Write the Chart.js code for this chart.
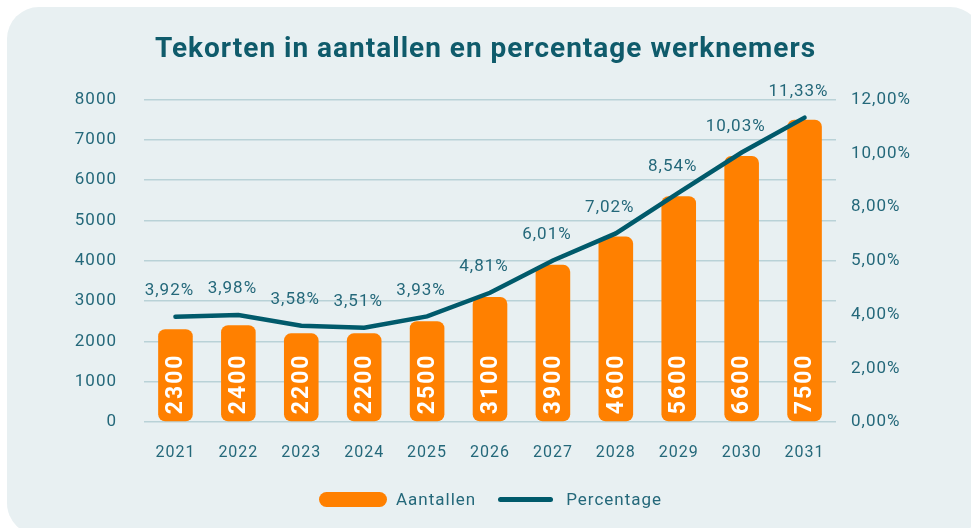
<!DOCTYPE html>
<html lang="nl">
<head>
<meta charset="utf-8">
<title>Tekorten in aantallen en percentage werknemers</title>
<script src="https://cdn.jsdelivr.net/npm/chart.js@4/dist/chart.umd.min.js"></script>
<style>
    html, body { margin: 0; padding: 0; background: #ffffff; }
    body { width: 971px; height: 528px; position: relative; overflow: hidden; font-family: Roboto, sans-serif; }
    .card { position: absolute; left: 7px; top: 7px; width: 975px; height: 528px; border-radius: 32px; background: #e8f0f2; }
    .wrap { position: absolute; left: 0; top: 0; width: 971px; height: 528px; }
    .legend { position: absolute; left: 319px; top: 488px; height: 22px; display: flex; align-items: center; color: #24687a; font-size: 17px; letter-spacing: 1px; }
    .legend .bar { width: 68px; height: 15px; border-radius: 8px; background: #ff8000; margin-right: 9px; }
    .legend .line { width: 55px; height: 5px; border-radius: 3px; background: #005a6b; margin-left: 22px; margin-right: 13px; }
</style>
</head>
<body>
<div class="card"></div>
<div class="wrap"><canvas id="chart" width="971" height="528"></canvas></div>
<div class="legend">
    <span class="bar"></span><span>Aantallen</span>
    <span class="line"></span><span>Percentage</span>
</div>
<script>
    const jaren = ['2021', '2022', '2023', '2024', '2025', '2026', '2027', '2028', '2029', '2030', '2031'];
    const aantallen = [2300, 2400, 2200, 2200, 2500, 3100, 3900, 4600, 5600, 6600, 7500];
    const percentages = [3.92, 3.98, 3.58, 3.51, 3.93, 4.81, 6.01, 7.02, 8.54, 10.03, 11.33];
    const pctTickLabels = ['0,00%', '2,00%', '4,00%', '5,00%', '8,00%', '10,00%', '12,00%'];

    const tekstKleur = '#24687a';
    const lijnKleur = '#005a6b';
    const oranje = '#ff8000';

    function formatPct(v) {
        return v.toFixed(2).replace('.', ',') + '%';
    }

    // labels in de staven en boven de lijn
    const labelPlugin = {
        id: 'waardeLabels',
        beforeLayout(chart) { chart.ctx.letterSpacing = '1px'; },
        beforeDraw(chart) { chart.ctx.letterSpacing = '1px'; },
        afterDatasetsDraw(chart) {
            const ctx = chart.ctx;
            const barMeta = chart.getDatasetMeta(0);
            const lineMeta = chart.getDatasetMeta(1);

            ctx.save();
            ctx.fillStyle = '#ffffff';
            ctx.font = 'bold 23px Roboto';
            ctx.letterSpacing = '2px';
            ctx.textAlign = 'left';
            ctx.textBaseline = 'middle';
            barMeta.data.forEach((bar, i) => {
                ctx.save();
                ctx.translate(bar.x, bar.base - 7);
                ctx.rotate(-Math.PI / 2);
                ctx.fillText(String(aantallen[i]), 0, 1);
                ctx.restore();
            });

            ctx.fillStyle = tekstKleur;
            ctx.font = '17px Roboto';
            ctx.letterSpacing = '1px';
            ctx.textAlign = 'center';
            lineMeta.data.forEach((pt, i) => {
                ctx.fillText(formatPct(percentages[i]), pt.x - 6, pt.y - 26);
            });
            ctx.restore();
        }
    };

    const ctx = document.getElementById('chart').getContext('2d');
    new Chart(ctx, {
        data: {
            labels: jaren,
            datasets: [
                {
                    type: 'bar',
                    label: 'Aantallen',
                    data: aantallen,
                    backgroundColor: oranje,
                    borderRadius: 7,
                    borderSkipped: false,
                    categoryPercentage: 1,
                    barPercentage: 0.55,
                    yAxisID: 'y',
                    order: 1
                },
                {
                    type: 'line',
                    label: 'Percentage',
                    data: percentages,
                    borderColor: lijnKleur,
                    backgroundColor: lijnKleur,
                    borderWidth: 4.5,
                    borderCapStyle: 'round',
                    pointRadius: 0,
                    tension: 0,
                    yAxisID: 'y1',
                    order: 0
                }
            ]
        },
        options: {
            responsive: false,
            animation: false,
            layout: {
                padding: { left: 0, right: 0, top: 0, bottom: 46 }
            },
            plugins: {
                legend: { display: false },
                tooltip: { enabled: false },
                title: {
                    display: true,
                    text: 'Tekorten in aantallen en percentage werknemers',
                    color: '#0f5b6b',
                    font: { family: 'Roboto', size: 28, weight: 'bold', lineHeight: 1.2 },
                    padding: { top: 33, bottom: 33 }
                }
            },
            scales: {
                x: {
                    grid: { display: false, drawTicks: false },
                    border: { display: false },
                    ticks: {
                        color: tekstKleur,
                        font: { family: 'Roboto', size: 16 },
                        padding: 21
                    },
                    afterFit(scale) { scale.height = 60; }
                },
                y: {
                    position: 'left',
                    min: 0,
                    max: 8000,
                    ticks: {
                        stepSize: 1000,
                        color: tekstKleur,
                        font: { family: 'Roboto', size: 17 },
                        padding: 27,
                        callback: (value) => String(value)
                    },
                    grid: { color: '#b9d2d7', lineWidth: 1.5, drawTicks: false },
                    border: { display: false },
                    afterFit(scale) { scale.width = 144; }
                },
                y1: {
                    position: 'right',
                    min: 0,
                    max: 12,
                    ticks: {
                        stepSize: 2,
                        color: tekstKleur,
                        font: { family: 'Roboto', size: 17 },
                        padding: 15,
                        callback: (value, index) => pctTickLabels[index]
                    },
                    grid: { drawOnChartArea: false, drawTicks: false },
                    border: { display: false },
                    afterFit(scale) { scale.width = 135; }
                }
            }
        },
        plugins: [labelPlugin]
    });
</script>
</body>
</html>
